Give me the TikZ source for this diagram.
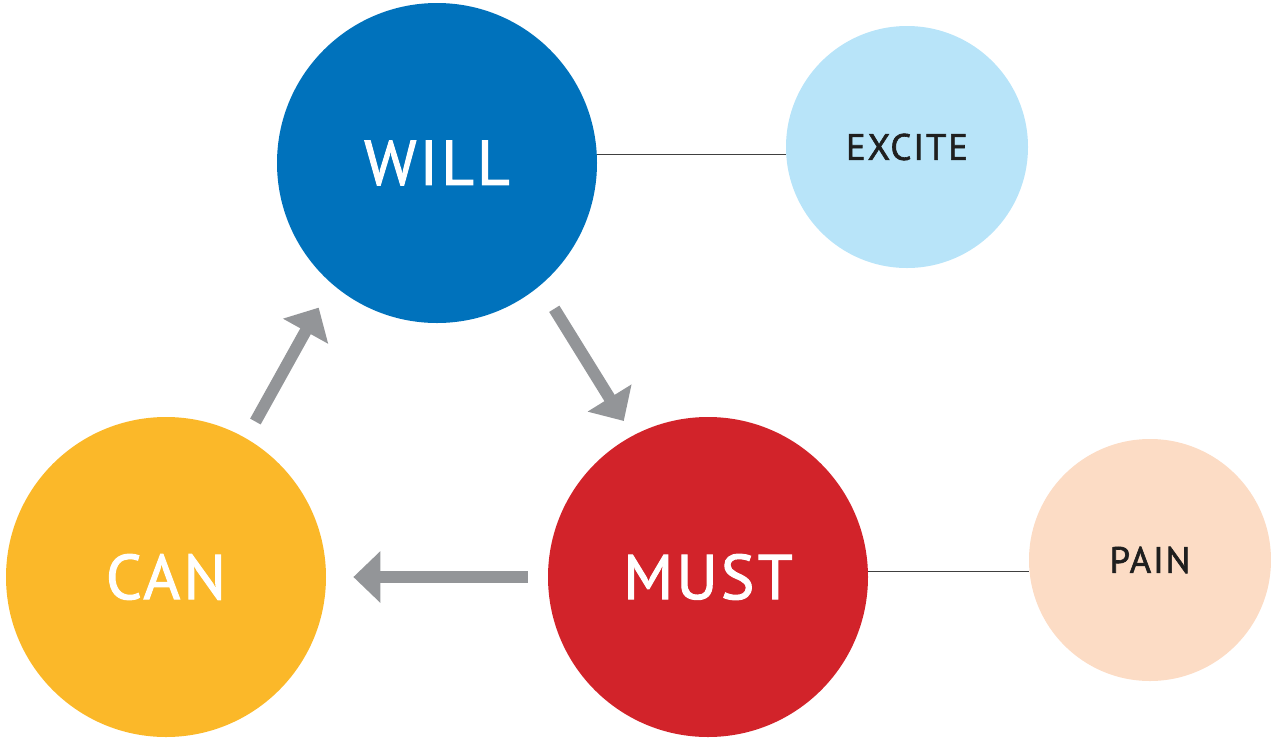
\documentclass[tikz,border=0pt]{standalone}
\usepackage{fontspec}
\usepackage{tikz}
\usetikzlibrary{arrows.meta}
\newfontfamily\labelfont[LetterSpace=5,FakeBold=1.6]{PT Sans}
\definecolor{willblue}{HTML}{0072BC}
\definecolor{excitecyan}{HTML}{B8E4F9}
\definecolor{mustred}{HTML}{D2232A}
\definecolor{canyellow}{HTML}{FBB829}
\definecolor{painpeach}{HTML}{FCDCC5}
\definecolor{arrowgray}{HTML}{939598}
\tikzset{
  bigball/.style={circle, minimum size=6.4cm, inner sep=0pt, text=white, font=\labelfont\fontsize{36}{36}\selectfont},
  smallball/.style={circle, minimum size=4.84cm, inner sep=0pt, text=black!88, font=\labelfont\fontsize{21}{21}\selectfont},
  link/.style={line width=0.5pt, color=black!75},
  flow/.style={line width=0.24cm, color=arrowgray, -{Triangle[length=0.54cm,width=1.0cm]}}
}

\begin{document}
\begin{tikzpicture}
			%%%%% START %%%%%
			
			\useasboundingbox (0, 0) rectangle (25.42, -14.74);
			
			\node[bigball, fill=willblue] (will) at (8.74, -3.26) {WILL};
			\node[smallball, fill=excitecyan] (excite) at (18.14, -2.94) {EXCITE};
			\node[bigball, fill=mustred] (must) at (14.16, -11.54) {MUST};
			\node[bigball, fill=canyellow] (can) at (3.32, -11.54) {CAN};
			\node[smallball, fill=painpeach] (pain) at (23.0, -11.2) {PAIN};
			
			\draw[link] (will.3.6) -- (will.3.6 -| excite.west);
			\draw[link] (must.2.8) -- (must.2.8 -| pain.west);
			
			\draw[flow, shorten <=0.38cm, shorten >=0.54cm] (can.60) -- (will.229);
			\draw[flow, shorten <=0.54cm, shorten >=0.34cm] (will.310.6) -- (must.118.5);
			\draw[flow, shorten <=0.40cm, shorten >=0.54cm] (must.west) -- (can.east);
			
			%%%%% END %%%%%
		\end{tikzpicture}
\end{document}
